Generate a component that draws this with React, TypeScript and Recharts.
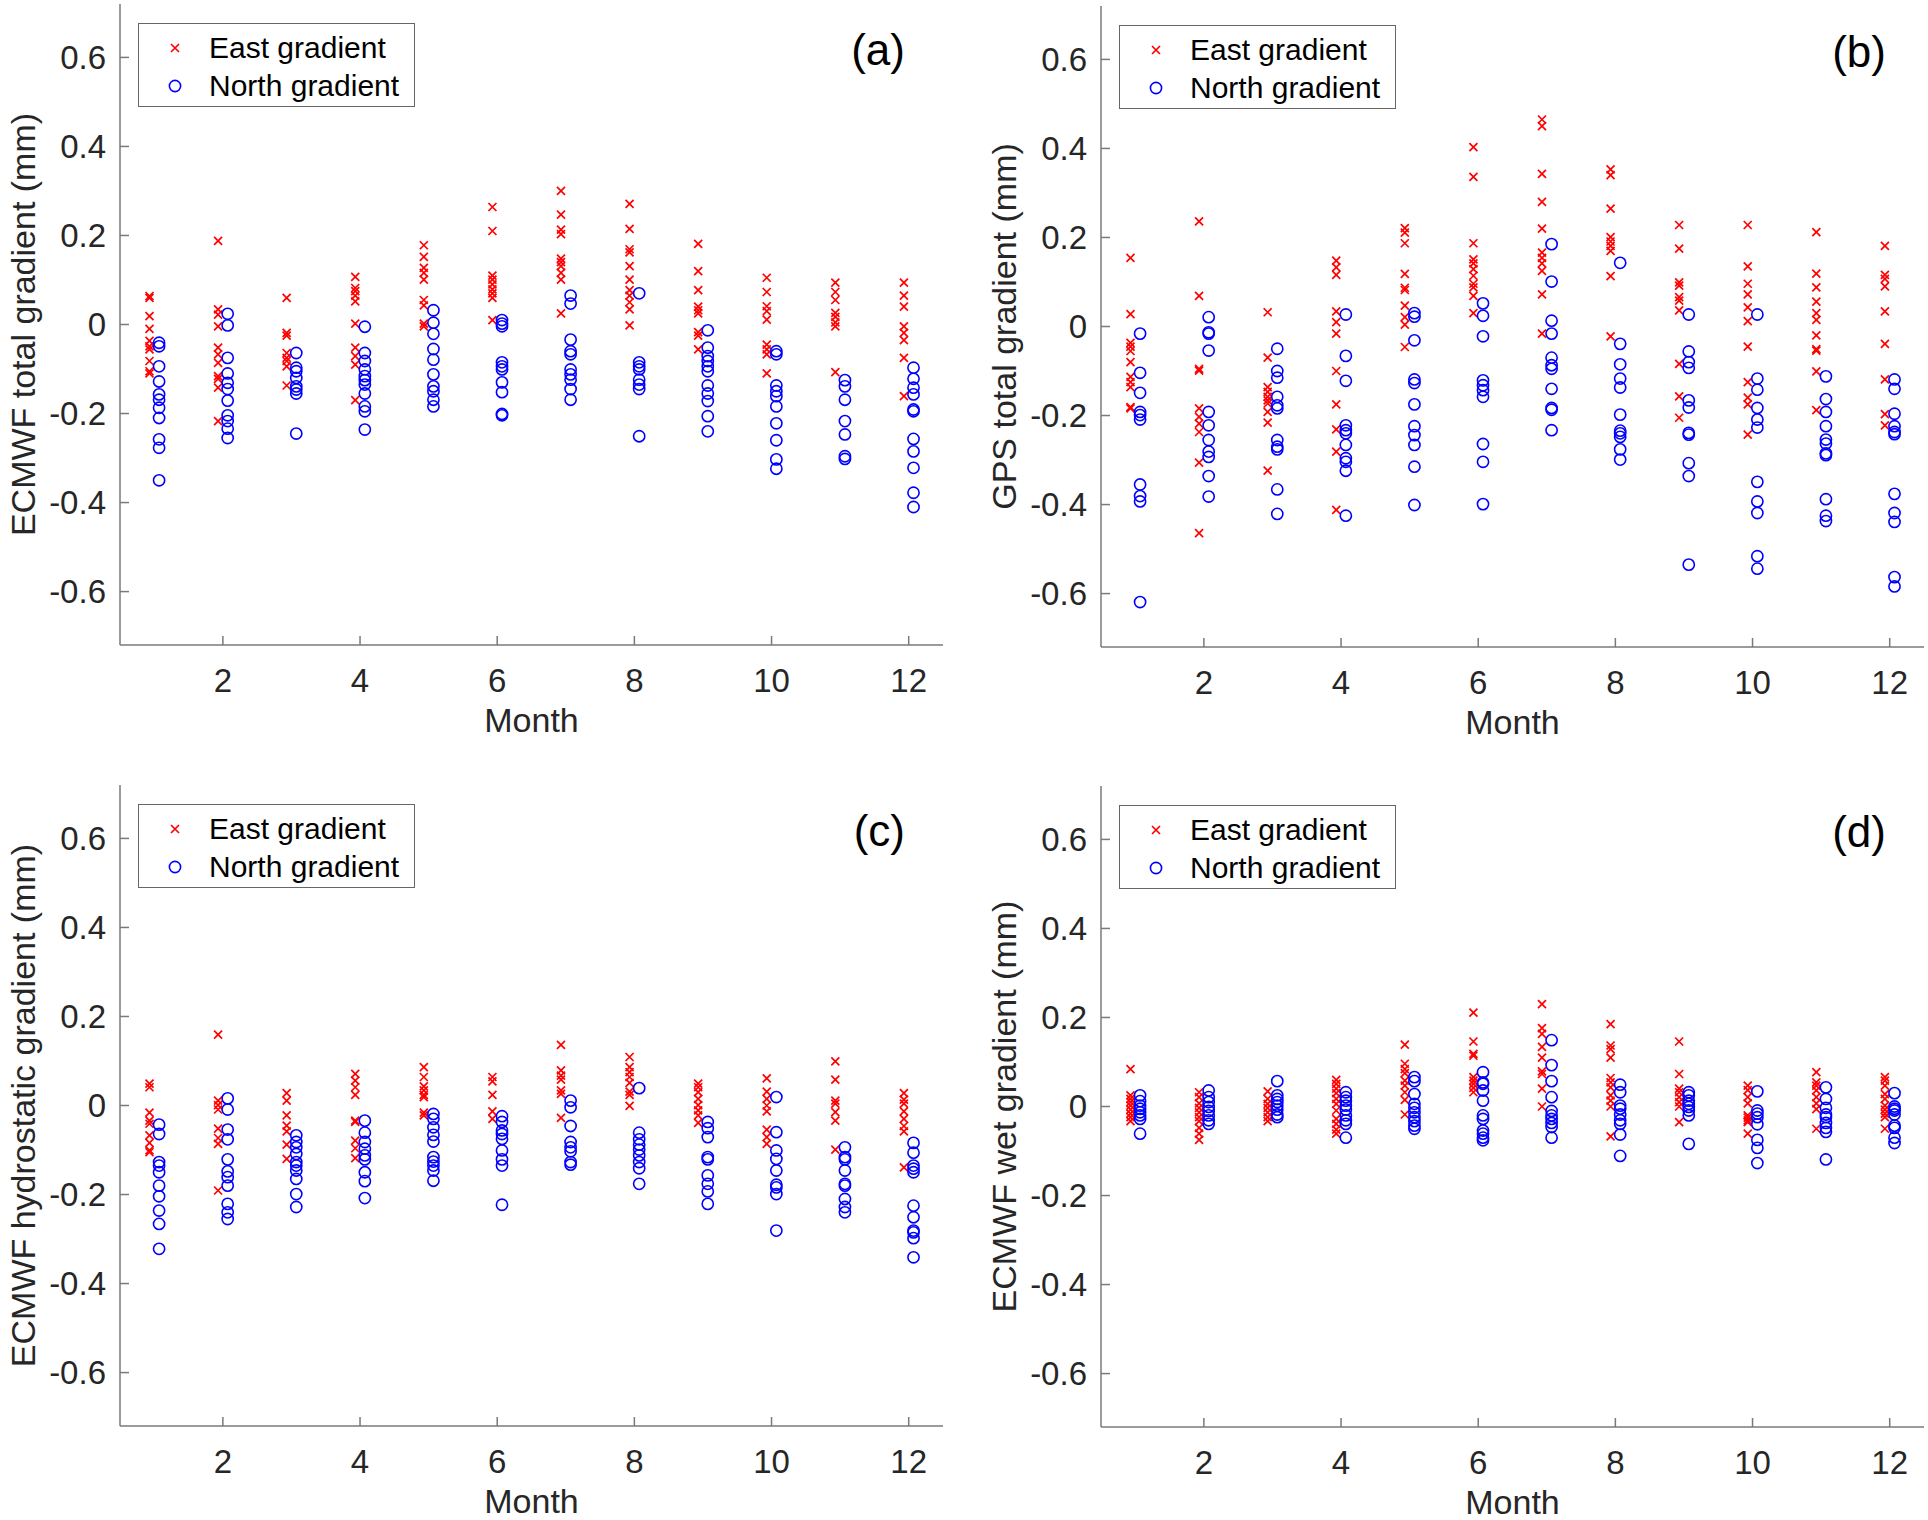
import React from 'react';
import { ScatterChart, Scatter, XAxis, YAxis, Label } from 'recharts';

// Months on the x axis and the ticks shown on both axes
const MONTHS = [1, 2, 3, 4, 5, 6, 7, 8, 9, 10, 11, 12];
const X_TICKS = [2, 4, 6, 8, 10, 12];
const Y_TICKS = [-0.6, -0.4, -0.2, 0, 0.2, 0.4, 0.6];

// (a) ECMWF total gradient, one list per month
const A_EAST = [
  [0.064, 0.06, 0.019, -0.01, -0.037, -0.049, -0.056, -0.082, -0.105, -0.11],
  [0.188, 0.034, 0.022, -0.004, -0.052, -0.067, -0.086, -0.116, -0.122, -0.142, -0.217],
  [0.06, -0.019, -0.025, -0.064, -0.075, -0.082, -0.094, -0.137],
  [0.107, 0.082, 0.075, 0.065, 0.052, 0.002, -0.052, -0.071, -0.09, -0.17],
  [0.178, 0.152, 0.127, 0.116, 0.101, 0.055, 0.043, 0.002, -0.004],
  [0.264, 0.21, 0.11, 0.101, 0.09, 0.079, 0.07, 0.06, 0.01],
  [0.3, 0.247, 0.213, 0.203, 0.148, 0.14, 0.131, 0.116, 0.101, 0.025],
  [0.271, 0.215, 0.169, 0.162, 0.131, 0.101, 0.077, 0.065, 0.05, 0.034, -0.002],
  [0.181, 0.12, 0.077, 0.04, 0.032, 0.025, -0.017, -0.025, -0.056],
  [0.105, 0.073, 0.041, 0.03, 0.011, -0.045, -0.056, -0.067, -0.11],
  [0.094, 0.073, 0.055, 0.026, 0.017, 0.005, -0.004, -0.107],
  [0.094, 0.065, 0.04, -0.004, -0.019, -0.035, -0.075, -0.161],
];
const A_NORTH = [
  [-0.041, -0.049, -0.094, -0.128, -0.157, -0.169, -0.187, -0.21, -0.258, -0.277, -0.35],
  [0.024, -0.002, -0.075, -0.11, -0.131, -0.145, -0.171, -0.204, -0.217, -0.234, -0.255],
  [-0.064, -0.097, -0.105, -0.12, -0.139, -0.146, -0.155, -0.245],
  [-0.005, -0.064, -0.082, -0.101, -0.116, -0.125, -0.135, -0.155, -0.184, -0.195, -0.236],
  [0.032, 0.004, -0.021, -0.055, -0.079, -0.112, -0.139, -0.15, -0.169, -0.184],
  [0.01, 0.002, -0.004, -0.085, -0.094, -0.101, -0.13, -0.152, -0.201, -0.204],
  [0.065, 0.047, -0.034, -0.06, -0.067, -0.101, -0.112, -0.124, -0.145, -0.169],
  [0.07, -0.085, -0.094, -0.101, -0.124, -0.135, -0.145, -0.251],
  [-0.013, -0.052, -0.071, -0.082, -0.094, -0.105, -0.137, -0.155, -0.172, -0.206, -0.24],
  [-0.06, -0.067, -0.137, -0.15, -0.161, -0.184, -0.222, -0.26, -0.303, -0.324],
  [-0.125, -0.139, -0.169, -0.217, -0.247, -0.296, -0.302],
  [-0.097, -0.122, -0.142, -0.157, -0.191, -0.195, -0.257, -0.285, -0.322, -0.378, -0.41],
];

// (b) GPS total gradient
const B_EAST = [
  [0.154, 0.028, -0.037, -0.045, -0.055, -0.08, -0.113, -0.125, -0.136, -0.181, -0.184],
  [0.236, 0.069, -0.095, -0.099, -0.184, -0.203, -0.218, -0.237, -0.306, -0.464],
  [0.032, -0.07, -0.136, -0.147, -0.158, -0.166, -0.173, -0.192, -0.216, -0.324],
  [0.148, 0.133, 0.116, 0.034, 0.01, -0.016, -0.1, -0.175, -0.231, -0.281, -0.412],
  [0.221, 0.211, 0.187, 0.118, 0.087, 0.082, 0.047, 0.021, 0.004, -0.046],
  [0.403, 0.336, 0.187, 0.151, 0.142, 0.129, 0.114, 0.096, 0.088, 0.069, 0.03],
  [0.465, 0.45, 0.343, 0.28, 0.22, 0.166, 0.154, 0.142, 0.125, 0.072, -0.016],
  [0.353, 0.34, 0.265, 0.201, 0.191, 0.181, 0.17, 0.113, -0.022],
  [0.228, 0.175, 0.099, 0.092, 0.066, 0.058, 0.036, -0.084, -0.157, -0.205],
  [0.228, 0.135, 0.096, 0.072, 0.043, 0.012, -0.045, -0.125, -0.16, -0.175, -0.243],
  [0.212, 0.119, 0.088, 0.056, 0.03, 0.015, -0.02, -0.051, -0.054, -0.101, -0.188],
  [0.181, 0.116, 0.107, 0.09, 0.034, -0.039, -0.119, -0.197, -0.222],
];
const B_NORTH = [
  [-0.016, -0.104, -0.149, -0.192, -0.199, -0.209, -0.355, -0.381, -0.393, -0.619],
  [0.021, -0.013, -0.016, -0.054, -0.192, -0.222, -0.255, -0.281, -0.293, -0.336, -0.382],
  [-0.05, -0.1, -0.115, -0.158, -0.177, -0.184, -0.255, -0.27, -0.276, -0.366, -0.421],
  [0.027, -0.066, -0.122, -0.222, -0.233, -0.24, -0.266, -0.296, -0.304, -0.324, -0.425],
  [0.03, 0.022, -0.031, -0.119, -0.127, -0.175, -0.224, -0.244, -0.266, -0.315, -0.401],
  [0.052, 0.024, -0.022, -0.121, -0.132, -0.143, -0.158, -0.264, -0.304, -0.399],
  [0.185, 0.101, 0.013, -0.016, -0.07, -0.087, -0.095, -0.14, -0.183, -0.187, -0.233],
  [0.143, -0.039, -0.085, -0.117, -0.137, -0.198, -0.234, -0.24, -0.248, -0.276, -0.299],
  [0.027, -0.056, -0.08, -0.093, -0.166, -0.182, -0.239, -0.243, -0.307, -0.336, -0.535],
  [0.027, -0.117, -0.142, -0.183, -0.209, -0.227, -0.349, -0.393, -0.419, -0.516, -0.544],
  [-0.112, -0.163, -0.192, -0.224, -0.254, -0.263, -0.285, -0.289, -0.388, -0.425, -0.437],
  [-0.119, -0.14, -0.196, -0.224, -0.237, -0.242, -0.376, -0.419, -0.439, -0.563, -0.584],
];

// (c) ECMWF hydrostatic gradient
const C_EAST = [
  [0.049, 0.041, -0.016, -0.034, -0.041, -0.067, -0.084, -0.101, -0.105],
  [0.159, 0.011, 0.001, -0.009, -0.052, -0.073, -0.086, -0.191],
  [0.028, 0.011, -0.022, -0.045, -0.058, -0.088, -0.12],
  [0.071, 0.056, 0.041, 0.024, -0.034, -0.037, -0.079, -0.096, -0.118],
  [0.086, 0.064, 0.043, 0.034, 0.024, 0.019, -0.016, -0.022],
  [0.064, 0.054, 0.024, -0.013, -0.03],
  [0.136, 0.079, 0.067, 0.058, 0.034, 0.026, -0.028],
  [0.109, 0.086, 0.075, 0.064, 0.051, 0.031, 0.024, -0.001],
  [0.049, 0.041, 0.03, 0.015, 0.001, -0.011, -0.022, -0.039],
  [0.061, 0.031, 0.015, 0.0, -0.013, -0.054, -0.071, -0.086],
  [0.099, 0.058, 0.011, 0.004, -0.015, -0.034, -0.099],
  [0.028, 0.013, 0.004, -0.013, -0.03, -0.046, -0.058, -0.139],
];
const C_NORTH = [
  [-0.043, -0.064, -0.127, -0.135, -0.15, -0.18, -0.204, -0.236, -0.266, -0.322],
  [0.016, -0.009, -0.054, -0.076, -0.121, -0.148, -0.161, -0.18, -0.221, -0.24, -0.255],
  [-0.067, -0.082, -0.094, -0.109, -0.127, -0.135, -0.146, -0.165, -0.199, -0.228],
  [-0.034, -0.061, -0.082, -0.097, -0.112, -0.121, -0.15, -0.17, -0.208],
  [-0.019, -0.03, -0.049, -0.066, -0.081, -0.116, -0.126, -0.135, -0.146, -0.169],
  [-0.024, -0.037, -0.056, -0.064, -0.075, -0.101, -0.121, -0.135, -0.223],
  [0.011, -0.004, -0.046, -0.082, -0.094, -0.103, -0.127, -0.133],
  [0.039, -0.061, -0.076, -0.088, -0.099, -0.112, -0.127, -0.141, -0.176],
  [-0.037, -0.051, -0.071, -0.116, -0.121, -0.157, -0.176, -0.193, -0.221],
  [0.019, -0.06, -0.101, -0.12, -0.146, -0.178, -0.184, -0.199, -0.281],
  [-0.094, -0.116, -0.121, -0.146, -0.176, -0.18, -0.21, -0.228, -0.24],
  [-0.084, -0.106, -0.135, -0.142, -0.15, -0.225, -0.251, -0.281, -0.285, -0.298, -0.341],
];

// (d) ECMWF wet gradient
const D_EAST = [
  [0.084, 0.025, 0.017, 0.01, 0.002, -0.007, -0.016, -0.024, -0.033],
  [0.032, 0.021, 0.007, -0.003, -0.013, -0.024, -0.033, -0.048, -0.061, -0.075],
  [0.034, 0.017, 0.006, -0.003, -0.013, -0.024, -0.033],
  [0.06, 0.051, 0.04, 0.03, 0.017, 0.006, -0.009, -0.028, -0.039, -0.052, -0.061],
  [0.139, 0.096, 0.084, 0.075, 0.058, 0.047, 0.032, 0.015, -0.018],
  [0.211, 0.146, 0.118, 0.114, 0.066, 0.058, 0.051, 0.042, 0.032],
  [0.23, 0.176, 0.163, 0.134, 0.11, 0.079, 0.073, 0.04, 0.0],
  [0.185, 0.137, 0.129, 0.11, 0.064, 0.054, 0.043, 0.025, 0.013, 0.0, -0.067],
  [0.146, 0.073, 0.04, 0.032, 0.021, 0.01, 0.0, -0.035],
  [0.047, 0.037, 0.021, 0.007, -0.02, -0.025, -0.031, -0.035, -0.061],
  [0.077, 0.054, 0.047, 0.036, 0.021, 0.007, -0.006, -0.05],
  [0.066, 0.058, 0.047, 0.028, 0.017, 0.002, -0.007, -0.016, -0.024, -0.05],
];
const D_NORTH = [
  [0.025, 0.012, 0.002, -0.005, -0.013, -0.02, -0.028, -0.061],
  [0.036, 0.021, 0.01, -0.001, -0.01, -0.02, -0.031, -0.039],
  [0.057, 0.025, 0.017, 0.01, 0.002, -0.007, -0.018, -0.024],
  [0.032, 0.021, 0.013, 0.002, -0.007, -0.02, -0.031, -0.039, -0.07],
  [0.066, 0.057, 0.028, 0.006, -0.003, -0.013, -0.024, -0.033, -0.043, -0.05],
  [0.077, 0.054, 0.051, 0.036, 0.013, -0.02, -0.028, -0.054, -0.061, -0.07, -0.076],
  [0.149, 0.093, 0.057, 0.021, -0.01, -0.02, -0.028, -0.037, -0.046, -0.07],
  [0.049, 0.032, 0.002, -0.005, -0.018, -0.031, -0.039, -0.063, -0.111],
  [0.032, 0.025, 0.013, 0.006, -0.001, -0.009, -0.02, -0.084],
  [0.034, -0.009, -0.016, -0.024, -0.04, -0.075, -0.093, -0.127],
  [0.043, 0.017, -0.003, -0.018, -0.024, -0.037, -0.048, -0.057, -0.119],
  [0.03, 0.0, -0.005, -0.009, -0.018, -0.043, -0.048, -0.07, -0.082],
];

const FONT = '"Liberation Sans", Arial, Helvetica, sans-serif';
const AXIS_COLOR = '#7a7a7a';
const TEXT_COLOR = '#262626';
const EAST_COLOR = '#ff0000';
const NORTH_COLOR = '#0000ff';

const PLOT_W = 823;
const PLOT_H = 641;
const Y_AXIS_W = 120;
const X_AXIS_H = 112;
const TOP_PAD = 2;
const RIGHT_PAD = 6;

// east marks sit a little left of the month, north marks a little right
const EAST_SHIFT = -0.07;
const NORTH_SHIFT = 0.07;

const toPoints = (values: number[][], shift: number) =>
  values.flatMap((vals, i) => vals.map((v) => ({ x: MONTHS[i] + shift, y: v })));

const Cross = (props: any) => {
  const { cx, cy } = props;
  const s = 4;
  return (
    <path
      d={`M${cx - s},${cy - s}L${cx + s},${cy + s}M${cx - s},${cy + s}L${cx + s},${cy - s}`}
      stroke={EAST_COLOR}
      strokeWidth={1.7}
      fill="none"
    />
  );
};

const Ring = (props: any) => {
  const { cx, cy } = props;
  return <circle cx={cx} cy={cy} r={5.6} stroke={NORTH_COLOR} strokeWidth={1.6} fill="none" />;
};

interface PanelProps {
  left: number;
  top: number;
  letter: string;
  yLabel: string;
  east: number[][];
  north: number[][];
}

const Panel: React.FC<PanelProps> = ({ left, top, letter, yLabel, east, north }) => {
  const eastPts = React.useMemo(() => toPoints(east, EAST_SHIFT), [east]);
  const northPts = React.useMemo(() => toPoints(north, NORTH_SHIFT), [north]);

  const width = Y_AXIS_W + PLOT_W + RIGHT_PAD;
  const height = TOP_PAD + PLOT_H + X_AXIS_H;

  const tickStyle = { fill: TEXT_COLOR, fontSize: 33, fontFamily: FONT };

  return (
    <div style={{ position: 'absolute', left: left - Y_AXIS_W, top: top - TOP_PAD, width, height }}>
      <ScatterChart width={width} height={height} margin={{ top: TOP_PAD, right: RIGHT_PAD, left: 0, bottom: 0 }}>
        <XAxis
          xAxisId="bottom"
          type="number"
          dataKey="x"
          domain={[0.5, 12.5]}
          ticks={X_TICKS}
          interval={0}
          allowDataOverflow
          height={X_AXIS_H}
          tickSize={-9}
          tickMargin={33}
          stroke={AXIS_COLOR}
          strokeWidth={1.5}
          tick={tickStyle}
        >
          <Label
            content={({ viewBox }: any) => (
              <text
                x={viewBox.x + viewBox.width / 2}
                y={viewBox.y + 87}
                textAnchor="middle"
                fill={TEXT_COLOR}
                fontSize={34}
                fontFamily={FONT}
              >
                Month
              </text>
            )}
          />
        </XAxis>
        <XAxis
          xAxisId="top"
          orientation="top"
          type="number"
          domain={[0.5, 12.5]}
          ticks={X_TICKS}
          interval={0}
          height={0}
          tickSize={-9}
          tick={false}
          stroke={AXIS_COLOR}
          strokeWidth={1.5}
        />
        <YAxis
          yAxisId="left"
          type="number"
          dataKey="y"
          domain={[-0.72, 0.72]}
          ticks={Y_TICKS}
          interval={0}
          allowDataOverflow
          width={Y_AXIS_W}
          tickSize={-9}
          tickMargin={23}
          tickFormatter={(v: number) => String(v)}
          stroke={AXIS_COLOR}
          strokeWidth={1.5}
          tick={tickStyle}
        >
          <Label
            content={({ viewBox }: any) => {
              const cx = viewBox.x + 35;
              const cy = viewBox.y + viewBox.height / 2;
              return (
                <text
                  x={cx}
                  y={cy}
                  transform={`rotate(-90 ${cx} ${cy})`}
                  textAnchor="middle"
                  fill={TEXT_COLOR}
                  fontSize={34}
                  fontFamily={FONT}
                >
                  {yLabel}
                </text>
              );
            }}
          />
        </YAxis>
        <YAxis
          yAxisId="right"
          orientation="right"
          type="number"
          domain={[-0.72, 0.72]}
          ticks={Y_TICKS}
          interval={0}
          width={0}
          tickSize={-9}
          tick={false}
          stroke={AXIS_COLOR}
          strokeWidth={1.5}
        />
        <Scatter
          name="East gradient"
          xAxisId="bottom"
          yAxisId="left"
          data={eastPts}
          shape={Cross}
          isAnimationActive={false}
        />
        <Scatter
          name="North gradient"
          xAxisId="bottom"
          yAxisId="left"
          data={northPts}
          shape={Ring}
          isAnimationActive={false}
        />
      </ScatterChart>

      {/* legend box, top left of the plot */}
      <div
        style={{
          position: 'absolute',
          left: Y_AXIS_W + 18,
          top: TOP_PAD + 19,
          width: 277,
          height: 84,
          boxSizing: 'border-box',
          border: '1.5px solid #666',
          background: '#fff',
          fontFamily: FONT,
          fontSize: 30,
          color: '#000',
        }}
      >
        {[
          { label: 'East gradient', mark: 'x' },
          { label: 'North gradient', mark: 'o' },
        ].map((item, i) => (
          <div
            key={item.label}
            style={{ position: 'absolute', left: 0, top: 5 + i * 38, height: 38, display: 'flex', alignItems: 'center' }}
          >
            <svg width={70} height={38}>
              {item.mark === 'x' ? (
                <path d="M32,15L40,23M32,23L40,15" stroke={EAST_COLOR} strokeWidth={1.7} fill="none" />
              ) : (
                <circle cx={36} cy={19} r={5.6} stroke={NORTH_COLOR} strokeWidth={1.6} fill="none" />
              )}
            </svg>
            <span style={{ whiteSpace: 'nowrap' }}>{item.label}</span>
          </div>
        ))}
      </div>

      {/* panel letter */}
      <div
        style={{
          position: 'absolute',
          right: RIGHT_PAD + 38,
          top: TOP_PAD + 24,
          fontFamily: FONT,
          fontSize: 44,
          color: '#000',
          lineHeight: 1,
        }}
      >
        {letter}
      </div>
    </div>
  );
};

export default function App() {
  return (
    <div style={{ position: 'absolute', left: 0, top: 0, width: 1928, height: 1520, background: '#fff' }}>
      <Panel left={120} top={4} letter="(a)" yLabel="ECMWF total gradient (mm)" east={A_EAST} north={A_NORTH} />
      <Panel left={1101} top={6} letter="(b)" yLabel="GPS total gradient (mm)" east={B_EAST} north={B_NORTH} />
      <Panel left={120} top={785} letter="(c)" yLabel="ECMWF hydrostatic gradient (mm)" east={C_EAST} north={C_NORTH} />
      <Panel left={1101} top={786} letter="(d)" yLabel="ECMWF wet gradient (mm)" east={D_EAST} north={D_NORTH} />
    </div>
  );
}
